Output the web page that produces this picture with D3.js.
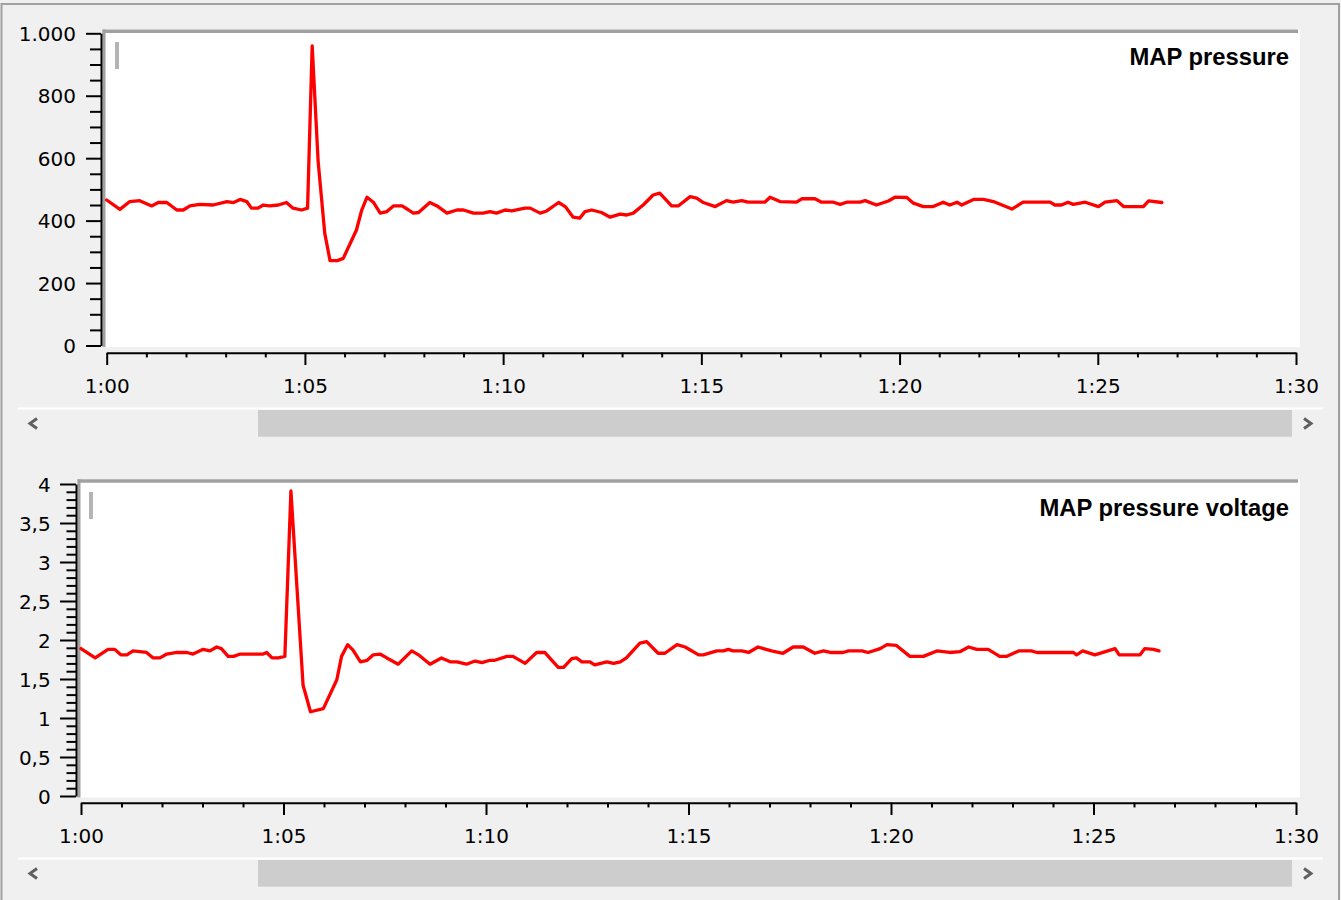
<!DOCTYPE html>
<html><head><meta charset="utf-8">
<script src="https://cdn.jsdelivr.net/npm/d3@7"></script>
<style>html,body{margin:0;padding:0;background:#f0f0f0;overflow:hidden}</style>
</head><body>
<svg id="chart" width="1341" height="900"></svg>
<script>
// ---- data (seconds after 1:00, value) ----
const pressureSeconds = [0,20,35,50,68,78,91,106,116,126,141,161,182,192,202,212,219,229,237,247,260,272,282,295,304,311,320,330,338,349,358,378,386,394,404,414,424,434,447,457,464,472,489,500,515,530,540,555,570,580,590,603,613,633,641,656,666,684,694,706,716,724,734,749,762,777,787,797,812,827,837,855,865,883,893,903,921,938,948,961,971,996,1004,1019,1044,1052,1072,1082,1100,1110,1120,1140,1148,1165,1183,1193,1211,1221,1236,1251,1266,1276,1287,1294,1312,1327,1342,1370,1387,1428,1435,1445,1455,1463,1481,1501,1511,1529,1539,1569,1577,1597];
const pressureValues = [466,436,461,464,447,458,458,434,434,447,452,450,461,458,468,461,440,440,450,447,450,458,440,434,440,960,590,360,272,272,279,370,434,475,458,424,429,447,447,434,424,426,458,447,424,434,434,424,424,429,424,434,431,440,440,424,431,458,445,411,408,429,434,426,411,421,418,424,450,482,488,447,447,477,472,458,445,464,459,464,459,459,475,461,459,470,470,459,459,452,459,459,464,450,463,475,474,456,445,445,459,450,459,450,468,468,461,437,459,459,450,450,459,452,459,445,459,464,445,445,463,458];
const voltageSeconds = [0,21,40,50,59,68,77,97,107,117,127,142,157,166,181,191,201,208,218,226,236,270,275,283,292,302,311,329,340,359,379,386,395,403,414,424,433,443,453,470,490,500,517,534,547,557,571,584,594,606,613,631,640,658,675,687,707,715,727,734,742,754,761,779,789,799,808,828,838,855,865,883,895,915,922,942,952,959,966,979,989,1003,1023,1040,1055,1070,1087,1100,1110,1129,1137,1157,1166,1184,1194,1208,1228,1248,1268,1287,1302,1315,1327,1344,1361,1371,1389,1408,1416,1470,1475,1484,1502,1532,1538,1569,1576,1589,1597];
const voltageValues = [1.89,1.77,1.88,1.88,1.81,1.81,1.86,1.84,1.77,1.77,1.82,1.84,1.84,1.82,1.88,1.86,1.91,1.89,1.79,1.79,1.82,1.82,1.84,1.77,1.77,1.79,3.91,1.42,1.08,1.12,1.49,1.79,1.94,1.87,1.72,1.74,1.81,1.82,1.77,1.69,1.86,1.81,1.69,1.77,1.72,1.72,1.69,1.73,1.71,1.74,1.74,1.79,1.79,1.70,1.84,1.84,1.65,1.65,1.76,1.77,1.72,1.72,1.68,1.72,1.70,1.72,1.77,1.96,1.98,1.83,1.83,1.94,1.91,1.81,1.81,1.86,1.86,1.88,1.86,1.86,1.84,1.91,1.86,1.83,1.91,1.91,1.83,1.86,1.84,1.84,1.86,1.86,1.84,1.89,1.94,1.93,1.79,1.79,1.86,1.84,1.85,1.91,1.88,1.88,1.79,1.79,1.86,1.86,1.84,1.84,1.81,1.86,1.81,1.89,1.81,1.81,1.89,1.88,1.86];
const xMajorMinutes = [60,65,70,75,80,85,90];
const xTickLabels = ["1:00","1:05","1:10","1:15","1:20","1:25","1:30"];
const pressureTicks = [0,200,400,600,800,1000];
const voltageTicks = [0,0.5,1,1.5,2,2.5,3,3.5,4];
const seriesNames = ["MAP pressure","MAP pressure voltage"];

const locale = d3.formatLocale({decimal:",",thousands:".",grouping:[3],currency:["","€"]});

const svg = d3.select("#chart");
// outer border
svg.append("rect").attr("x",1.5).attr("y",4).attr("width",1337.5).attr("height",910)
  .attr("fill","#f0f0f0").attr("stroke","#a0a0a0").attr("stroke-width",2);

const panels = [
  {name:seriesNames[0], secs:pressureSeconds, vals:pressureValues, ticks:pressureTicks, maxV:1000, minorStep:50,
   fmt:locale.format(",.0f"),
   axisX:101, yTop:33.3, yBot:345.5, xAxisY:352.7, xL:106.7, xR:1296,
   fx0:102.5, fy0:29.5, fx1:1300, fy1:347, majLen:15, minLen:11, labelEnd:76,
   legendY:65, markX:115, markY:42, scrollY:408},
  {name:seriesNames[1], secs:voltageSeconds, vals:voltageValues, ticks:voltageTicks, maxV:4, minorStep:0.1,
   fmt:locale.format("~g"),
   axisX:76, yTop:484, yBot:796, xAxisY:802.7, xL:81, xR:1296,
   fx0:77.5, fy0:479.3, fx1:1300, fy1:797.5, majLen:16, minLen:9.5, labelEnd:50.7,
   legendY:516, markX:89, markY:492, scrollY:858}
];

const FONT = "'DejaVu Sans', Verdana, sans-serif";

panels.forEach(p => {
  const g = svg.append("g");
  const x = d3.scaleLinear().domain([60,90]).range([p.xL,p.xR]);
  const y = d3.scaleLinear().domain([0,p.maxV]).range([p.yBot,p.yTop]);

  // plot frame
  g.append("rect").attr("x",p.fx0).attr("y",p.fy0).attr("width",p.fx1-p.fx0).attr("height",p.fy1-p.fy0).attr("fill","#fff");
  g.append("line").attr("x1",p.fx0).attr("x2",p.fx1-2).attr("y1",p.fy0+1.75).attr("y2",p.fy0+1.75)
    .attr("stroke","#a0a0a0").attr("stroke-width",3.5);
  g.append("line").attr("x1",p.fx0+1.5).attr("x2",p.fx0+1.5).attr("y1",p.fy0).attr("y2",p.fy1)
    .attr("stroke","#a0a0a0").attr("stroke-width",3);
  g.append("rect").attr("x",p.markX).attr("y",p.markY).attr("width",4).attr("height",27).attr("fill","#b4b4b4");

  // y axis minor
  const minor = d3.range(0, p.maxV + p.minorStep/2, p.minorStep).map(v=>+v.toFixed(4)).filter(v => !p.ticks.some(t=>Math.abs(t-v)<1e-6));
  const yMinor = g.append("g").attr("transform",`translate(${p.axisX},0)`)
    .call(d3.axisLeft(y).tickValues(minor).tickSize(p.minLen).tickFormat(""));
  yMinor.select(".domain").remove();
  const yMajor = g.append("g").attr("transform",`translate(${p.axisX},0)`)
    .call(d3.axisLeft(y).tickValues(p.ticks).tickSize(p.majLen).tickSizeOuter(0).tickPadding(p.axisX-p.labelEnd-p.majLen).tickFormat(p.fmt));
  yMajor.selectAll("line").attr("stroke","#000").attr("stroke-width",2);
  yMinor.selectAll("line").attr("stroke","#000").attr("stroke-width",2);
  yMajor.select(".domain").attr("stroke","#000").attr("stroke-width",2);
  yMajor.selectAll("text").attr("font-family",FONT).attr("font-size",20).attr("fill","#000").attr("dy","0.36em");

  // x axis
  const xMinorVals = d3.range(60,91).filter(m => !xMajorMinutes.includes(m));
  const xMinor = g.append("g").attr("transform",`translate(0,${p.xAxisY})`)
    .call(d3.axisBottom(x).tickValues(xMinorVals).tickSize(4.7).tickFormat(""));
  xMinor.select(".domain").remove();
  xMinor.selectAll("line").attr("stroke","#000").attr("stroke-width",2);
  const xMajor = g.append("g").attr("transform",`translate(0,${p.xAxisY})`)
    .call(d3.axisBottom(x).tickValues(xMajorMinutes).tickSize(12.3).tickSizeOuter(0)
      .tickFormat((d,i)=>xTickLabels[i]));
  xMajor.selectAll("line").attr("stroke","#000").attr("stroke-width",2);
  xMajor.select(".domain").attr("stroke","#000").attr("stroke-width",2);
  xMajor.selectAll("text").attr("font-family",FONT).attr("font-size",20).attr("fill","#000")
    .attr("y",40).attr("dy",null);

  // series line
  const data = p.secs.map((s,i)=>({m:60+s/60, v:p.vals[i]}));
  g.append("path").datum(data)
    .attr("d", d3.line().x(d=>x(d.m)).y(d=>y(d.v)))
    .attr("fill","none").attr("stroke","#ff0000").attr("stroke-width",3.3)
    .attr("stroke-linejoin","round").attr("stroke-linecap","round");

  // legend
  g.append("text").attr("x",1289).attr("y",p.legendY).attr("text-anchor","end")
    .attr("font-family","'Liberation Sans', Arial, sans-serif").attr("font-weight","bold")
    .attr("font-size",23.8).attr("fill","#000").text(p.name);

  // scrollbar
  g.append("line").attr("x1",18).attr("x2",1323).attr("y1",p.scrollY+0.5).attr("y2",p.scrollY+0.5)
    .attr("stroke","#fff").attr("stroke-width",2);
  g.append("rect").attr("x",258).attr("y",p.scrollY+2).attr("width",1034).attr("height",26.7).attr("fill","#cdcdcd");
  const cy = p.scrollY + 15.5;
  g.append("path").attr("d",`M37,${cy-5} L30,${cy} L37,${cy+5}`).attr("fill","none")
    .attr("stroke","#606060").attr("stroke-width",3);
  g.append("path").attr("d",`M1304,${cy-5} L1311,${cy} L1304,${cy+5}`).attr("fill","none")
    .attr("stroke","#606060").attr("stroke-width",3);
});
</script>
</body></html>
